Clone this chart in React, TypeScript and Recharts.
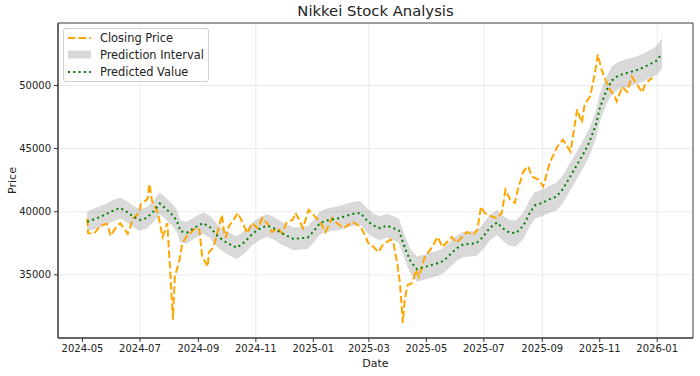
import { ComposedChart, Line, Area, XAxis, YAxis, CartesianGrid, ReferenceArea } from 'recharts';

const closeDates = [
  '2024-05-06', '2024-05-07', '2024-05-13', '2024-05-20', '2024-05-27', '2024-05-31', '2024-06-05', '2024-06-10',
  '2024-06-18', '2024-06-24', '2024-06-30', '2024-07-02', '2024-07-09', '2024-07-11', '2024-07-14', '2024-07-17',
  '2024-07-20', '2024-07-25', '2024-07-28', '2024-07-30', '2024-08-02', '2024-08-05', '2024-08-07', '2024-08-12',
  '2024-08-15', '2024-08-20', '2024-08-29', '2024-09-02', '2024-09-05', '2024-09-11', '2024-09-12', '2024-09-17',
  '2024-09-21', '2024-09-26', '2024-09-28', '2024-09-30', '2024-10-03', '2024-10-08', '2024-10-13', '2024-10-18',
  '2024-10-23', '2024-10-28', '2024-11-03', '2024-11-08', '2024-11-13', '2024-11-18', '2024-11-24', '2024-11-29',
  '2024-12-04', '2024-12-10', '2024-12-13', '2024-12-16', '2024-12-21', '2024-12-27', '2025-01-01', '2025-01-08',
  '2025-01-14', '2025-01-21', '2025-01-26', '2025-02-02', '2025-02-12', '2025-02-20', '2025-02-25', '2025-02-28',
  '2025-03-06', '2025-03-11', '2025-03-16', '2025-03-24', '2025-03-27', '2025-03-31', '2025-04-03', '2025-04-06',
  '2025-04-08', '2025-04-11', '2025-04-16', '2025-04-20', '2025-04-23', '2025-04-29', '2025-05-07', '2025-05-13',
  '2025-05-18', '2025-05-23', '2025-05-28', '2025-06-02', '2025-06-08', '2025-06-13', '2025-06-19', '2025-06-24',
  '2025-06-28', '2025-07-02', '2025-07-10', '2025-07-15', '2025-07-20', '2025-07-24', '2025-07-29', '2025-08-03',
  '2025-08-06', '2025-08-12', '2025-08-17', '2025-08-21', '2025-08-28', '2025-09-02', '2025-09-09', '2025-09-17',
  '2025-09-23', '2025-10-01', '2025-10-08', '2025-10-13', '2025-10-16', '2025-10-22', '2025-10-27', '2025-10-30',
  '2025-11-03', '2025-11-07', '2025-11-12', '2025-11-17', '2025-11-19', '2025-11-25', '2025-11-30', '2025-12-05',
  '2025-12-11', '2025-12-16', '2025-12-19', '2025-12-24', '2025-12-27',
];

const closeValues = [
  39450, 38300, 38250, 38900, 39050, 38100, 38700, 39100,
  38250, 39500, 39900, 40600, 41000, 42200, 40800, 40400,
  39900, 38000, 38600, 39100, 35400, 31450, 34850, 36200,
  37500, 38100, 38700, 38600, 36450, 35650, 36750, 37200,
  38300, 39750, 38550, 37950, 38800, 39350, 39900, 39100,
  38300, 39100, 38700, 39500, 39100, 38400, 38700, 38300,
  39200, 39350, 39900, 39500, 38700, 40150, 39750, 39200,
  38400, 39500, 39100, 38700, 39200, 38800, 38150, 37550,
  37200, 36800, 37400, 37800, 37550, 35950, 34350, 31200,
  33000, 34200, 34350, 35400, 34850, 36350, 37200, 38000,
  37200, 37600, 38000, 37550, 38000, 38400, 38150, 38550,
  40400, 39900, 39600, 39500, 39900, 41750, 40950, 40700,
  41750, 43200, 43600, 42800, 42550, 42000, 43900, 45150,
  45700, 44750, 48100, 47050, 48500, 49150, 51050, 52450,
  51250, 50450, 49650, 49150, 48750, 49900, 49500, 50700,
  50050, 49450, 50050, 50450, 50600,
];

const predDates = [
  '2024-05-06', '2024-05-13', '2024-05-20', '2024-05-27', '2024-06-03', '2024-06-10', '2024-06-17', '2024-06-24',
  '2024-07-01', '2024-07-08', '2024-07-15', '2024-07-22', '2024-07-29', '2024-08-05', '2024-08-09', '2024-08-13',
  '2024-08-20', '2024-08-27', '2024-09-06', '2024-09-13', '2024-09-21', '2024-09-28', '2024-10-05', '2024-10-12',
  '2024-10-20', '2024-10-29', '2024-11-06', '2024-11-13', '2024-11-20', '2024-11-27', '2024-12-04', '2024-12-11',
  '2024-12-18', '2024-12-26', '2025-01-02', '2025-01-08', '2025-01-15', '2025-01-22', '2025-01-29', '2025-02-06',
  '2025-02-13', '2025-02-20', '2025-02-27', '2025-03-06', '2025-03-13', '2025-03-20', '2025-03-27', '2025-04-02',
  '2025-04-06', '2025-04-10', '2025-04-14', '2025-04-21', '2025-04-28', '2025-05-05', '2025-05-12', '2025-05-19',
  '2025-05-26', '2025-06-02', '2025-06-09', '2025-06-16', '2025-06-23', '2025-06-30', '2025-07-07', '2025-07-15',
  '2025-07-21', '2025-07-28', '2025-08-04', '2025-08-12', '2025-08-18', '2025-08-24', '2025-09-01', '2025-09-09',
  '2025-09-16', '2025-09-23', '2025-09-30', '2025-10-07', '2025-10-14', '2025-10-21', '2025-10-28', '2025-11-01',
  '2025-11-08', '2025-11-14', '2025-11-21', '2025-11-28', '2025-12-05', '2025-12-12', '2025-12-19', '2025-12-26',
  '2025-12-31', '2026-01-06',
];

const predValues = [
  39200, 39400, 39600, 39850, 40100, 40300, 40000, 39600,
  39350, 39500, 40000, 40650, 40200, 39700, 39300, 38450,
  38350, 38700, 39100, 38800, 38100, 37700, 37400, 37150,
  37600, 38300, 38700, 38900, 38700, 38350, 38100, 37850,
  37900, 37950, 38500, 39100, 39300, 39400, 39500, 39700,
  39850, 39900, 39300, 38900, 38700, 38900, 38700, 38500,
  37600, 36800, 36100, 35450, 35600, 35750, 35900, 36100,
  36600, 37100, 37400, 37450, 37500, 38000, 38700, 39150,
  38700, 38350, 38300, 38900, 39800, 40500, 40700, 41000,
  41200, 41800, 42700, 43600, 44500, 45500, 46900, 48200,
  49600, 50400, 50800, 50950, 51100, 51250, 51500, 51750,
  51950, 52500,
];

const lowerValues = [
  38450, 38600, 38750, 39000, 39250, 39450, 39150, 38750,
  38500, 38650, 39150, 39800, 39350, 38850, 38400, 37550,
  37500, 37850, 38250, 37950, 37200, 36800, 36500, 36250,
  36700, 37400, 37800, 38000, 37800, 37450, 37200, 36950,
  37000, 37050, 37600, 38200, 38400, 38500, 38550, 38750,
  38900, 38950, 38350, 37950, 37750, 37950, 37750, 37550,
  36650, 35850, 35150, 34450, 34600, 34750, 34900, 35100,
  35600, 36100, 36400, 36450, 36500, 37000, 37700, 38150,
  37700, 37300, 37250, 37850, 38750, 39450, 39650, 39950,
  40100, 40700, 41600, 42500, 43400, 44400, 45800, 47100,
  48500, 49300, 49700, 49850, 50000, 50150, 50400, 50650,
  50800, 51300,
];

const upperValues = [
  40000, 40250, 40450, 40650, 40950, 41100, 40850, 40450,
  40200, 40350, 40850, 41550, 41050, 40600, 40200, 39300,
  39200, 39550, 39950, 39700, 39000, 38600, 38300, 38050,
  38500, 39200, 39600, 39800, 39600, 39250, 39000, 38750,
  38800, 38850, 39400, 40000, 40250, 40350, 40450, 40650,
  40800, 40850, 40250, 39850, 39650, 39850, 39650, 39450,
  38550, 37750, 37050, 36450, 36600, 36750, 36900, 37100,
  37600, 38100, 38400, 38450, 38500, 39000, 39700, 40150,
  39700, 39350, 39300, 39950, 40850, 41550, 41750, 42050,
  42300, 42900, 43800, 44700, 45600, 46600, 48000, 49300,
  50700, 51500, 51900, 52050, 52200, 52350, 52600, 52850,
  53100, 53750,
];

const xTickDates = [
  '2024-05-01', '2024-07-01', '2024-09-01', '2024-11-01', '2025-01-01', '2025-03-01',
  '2025-05-01', '2025-07-01', '2025-09-01', '2025-11-01', '2026-01-01',
];
const yTicks = [35000, 40000, 45000, 50000];

const closeData = closeDates.map((d, i) => ({ t: Date.parse(d), close: closeValues[i] }));
const predData = predDates.map((d, i) => ({
  t: Date.parse(d),
  pred: predValues[i],
  band: [lowerValues[i], upperValues[i]],
}));

const xDomain = [Date.parse('2024-04-05'), Date.parse('2026-02-08')];
const yDomain = [30000, 54950];
const FONT = '"DejaVu Sans", sans-serif';

const fmtMonth = (v: number) => {
  const d = new Date(v);
  return `${d.getUTCFullYear()}-${String(d.getUTCMonth() + 1).padStart(2, '0')}`;
};

const LegendBox = () => (
  <svg width={147} height={55} style={{ position: 'absolute', left: 63, top: 28 }}>
    <rect x={0.5} y={0.5} width={145} height={53} rx={2.5} fill="#ffffff" fillOpacity={0.8} stroke="#d0d0d0" />
    <line x1={5} x2={28} y1={10} y2={10} stroke="#FFA500" strokeWidth={2} strokeDasharray="7.4 3.2" />
    <text x={37} y={14} fontSize={11.4} fontFamily={FONT} fill="#222">Closing Price</text>
    <rect x={5} y={22.5} width={23} height={8} fill="#808080" fillOpacity={0.3} />
    <text x={37} y={31} fontSize={11.4} fontFamily={FONT} fill="#222">Prediction Interval</text>
    <line x1={5} x2={28} y1={44} y2={44} stroke="#008000" strokeWidth={2} strokeDasharray="2 3.3" />
    <text x={37} y={48} fontSize={11.4} fontFamily={FONT} fill="#222">Predicted Value</text>
  </svg>
);

const PriceLabel = (props: any) => {
  const vb = props.viewBox;
  const cy = vb.y + vb.height / 2;
  return (
    <text x={16} y={cy} transform={`rotate(-90 16 ${cy})`} textAnchor="middle" fontSize={11} fontFamily={FONT} fill="#222">
      Price
    </text>
  );
};

export default function App() {
  return (
    <div style={{ position: 'absolute', left: 0, top: 0, width: 700, height: 376, background: '#fff', fontFamily: FONT }}>
      <div style={{ position: 'absolute', left: 58, width: 635, top: 2, textAlign: 'center', fontSize: 14.8, color: '#222' }}>
        Nikkei Stock Analysis
      </div>
      <ComposedChart width={700} height={376} margin={{ top: 23, right: 7, bottom: 0, left: 0 }}>
        <CartesianGrid stroke="#e6e6e6" strokeWidth={0.8} />
        <XAxis
          dataKey="t"
          type="number"
          scale="time"
          domain={xDomain}
          allowDataOverflow
          ticks={xTickDates.map((d) => Date.parse(d))}
          tickFormatter={fmtMonth}
          height={38}
          tickSize={4}
          tickMargin={3}
          stroke="#333"
          tick={{ fontSize: 10, fill: '#222', fontFamily: FONT }}
          label={{ value: 'Date', position: 'insideBottom', offset: 9, fontSize: 11, fill: '#222', fontFamily: FONT }}
        />
        <YAxis
          type="number"
          domain={yDomain}
          allowDataOverflow
          ticks={yTicks}
          width={58}
          tickSize={4}
          tickMargin={3}
          stroke="#333"
          tick={{ fontSize: 10, fill: '#222', fontFamily: FONT }}
          label={<PriceLabel />}
        />
        <ReferenceArea x1={xDomain[0]} x2={xDomain[1]} y1={yDomain[0]} y2={yDomain[1]} fill="none" stroke="#333" strokeWidth={0.9} ifOverflow="visible" />
        <Area
          data={predData}
          dataKey="band"
          type="linear"
          stroke="none"
          fill="#808080"
          fillOpacity={0.3}
          isAnimationActive={false}
        />
        <Line
          data={closeData}
          dataKey="close"
          type="linear"
          stroke="#FFA500"
          strokeWidth={2}
          strokeDasharray="7.4 3.2"
          dot={false}
          isAnimationActive={false}
        />
        <Line
          data={predData}
          dataKey="pred"
          type="linear"
          stroke="#008000"
          strokeWidth={2}
          strokeDasharray="2 3.3"
          dot={false}
          isAnimationActive={false}
        />
      </ComposedChart>
      <LegendBox />
    </div>
  );
}
